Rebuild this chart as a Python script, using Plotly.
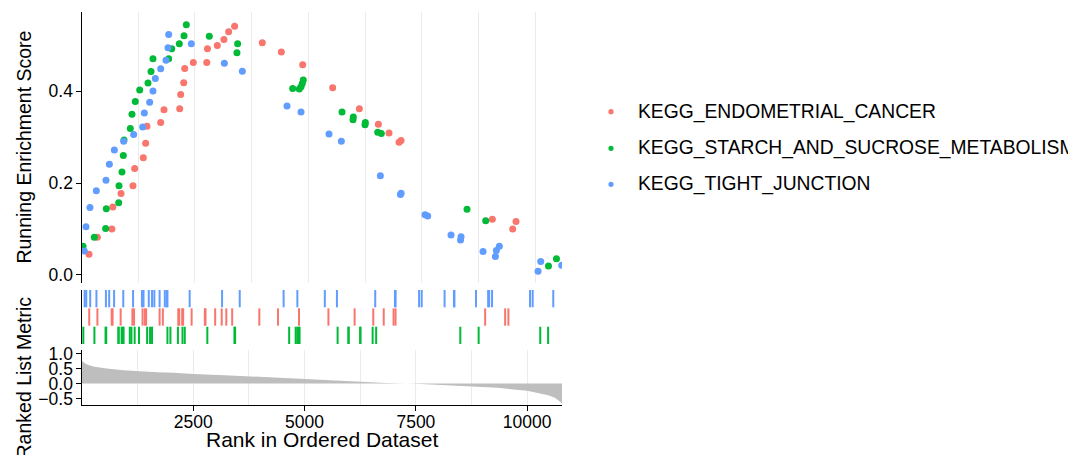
import plotly.graph_objects as go

# ---------------- data ----------------
set_names = ["KEGG_ENDOMETRIAL_CANCER", "KEGG_STARCH_AND_SUCROSE_METABOLISM", "KEGG_TIGHT_JUNCTION"]
set_colors = ["#F8766D", "#00BA38", "#619CFF"]

# hit positions (rank) and running enrichment score at each hit
endo_rank = [163, 347, 668, 688, 869, 1133, 1170, 1361, 1413, 1442, 1744, 1817, 2163, 2185, 2251, 2273,
             2463, 2760, 2775, 2992, 3139, 3242, 3374, 3984, 4404, 4875, 5536, 6124, 6543, 6778, 6999,
             7043, 9056, 9505, 9578]
endo_es = [0.045, 0.082, 0.100, 0.148, 0.177, 0.194, 0.232, 0.255, 0.287, 0.324, 0.332, 0.360, 0.362,
           0.393, 0.419, 0.450, 0.463, 0.463, 0.493, 0.500, 0.513, 0.530, 0.542, 0.506, 0.486, 0.458,
           0.408, 0.362, 0.328, 0.309, 0.289, 0.293, 0.121, 0.100, 0.116]

starch_rank = [31, 280, 530, 545, 818, 825, 891, 920, 935, 1074, 1111, 1184, 1281, 1464, 1530, 1574,
               1920, 1987, 2155, 2258, 2309, 2816, 3425, 3440, 4654, 4800, 4838, 4866, 4888, 5742, 5984,
               5991, 6249, 6256, 6529, 6608, 8498, 8910, 10294, 10470]
starch_es = [0.062, 0.082, 0.101, 0.144, 0.157, 0.194, 0.224, 0.260, 0.294, 0.319, 0.350, 0.378, 0.403,
             0.418, 0.443, 0.471, 0.471, 0.493, 0.504, 0.521, 0.545, 0.520, 0.484, 0.504, 0.406, 0.405,
             0.410, 0.417, 0.425, 0.355, 0.338, 0.344, 0.327, 0.332, 0.311, 0.308, 0.143, 0.118, 0.019,
             0.035]

tight_rank = [60, 97, 185, 325, 538, 612, 722, 928, 1148, 1347, 1383, 1501, 1574, 1626, 1744, 1861, 1905,
              1920, 2419, 3147, 3544, 4529, 4838, 5455, 5727, 6587, 7030, 7045, 7572, 7631, 8145, 8355,
              8366, 8851, 9123, 9145, 9211, 10064, 10123, 10586]
tight_es = [0.052, 0.105, 0.147, 0.183, 0.206, 0.241, 0.272, 0.291, 0.306, 0.322, 0.353, 0.376, 0.401,
            0.428, 0.449, 0.468, 0.495, 0.524, 0.504, 0.461, 0.444, 0.368, 0.355, 0.307, 0.291, 0.216,
            0.175, 0.178, 0.131, 0.128, 0.087, 0.076, 0.083, 0.051, 0.040, 0.053, 0.062, 0.008, 0.029,
            0.021]

# ranked list metric (rank, value)
metric_rank = [1, 25, 100, 252, 555, 933, 1236, 1690, 2069, 2500, 3204, 3734, 4340, 5006, 5626, 6232,
               6838, 7496, 8125, 8730, 9336, 10002, 10244, 10471, 10623, 10736, 10782]
metric_value = [0.75, 0.72, 0.64, 0.57, 0.50, 0.44, 0.41, 0.38, 0.36, 0.32, 0.28, 0.24, 0.19, 0.14, 0.10,
                0.06, 0.02, -0.005, -0.045, -0.09, -0.14, -0.24, -0.31, -0.39, -0.47, -0.58, -0.65]

x_ticks = [2500, 5000, 7500, 10000]
es_ticks = [0.0, 0.2, 0.4]
es_ticktext = ["0.0", "0.2", "0.4"]
metric_ticks = [1.0, 0.5, 0.0, -0.5]
metric_ticktext = ["1.0", "0.5", "0.0", "\u22120.5"]

ranks = [endo_rank, starch_rank, tight_rank]
scores = [endo_es, starch_es, tight_es]

FONT = "Liberation Sans, Arial, Helvetica, sans-serif"

fig = go.Figure()

# running enrichment score dots
for name, col, r, s in zip(set_names, set_colors, ranks, scores):
    fig.add_trace(go.Scatter(x=r, y=s, mode="markers", name=name,
                             marker=dict(size=7, color=col, line=dict(width=0)),
                             xaxis="x", yaxis="y", showlegend=False, cliponaxis=True))

# rug of hits
rows = [(1.02, 1.98), (0.0, 0.96), (2.04, 3.0)]
for name, col, r, (y0, y1) in zip(set_names, set_colors, ranks, rows):
    xs, ys = [], []
    for v in r:
        xs += [v, v, None]
        ys += [y0, y1, None]
    fig.add_trace(go.Scatter(x=xs, y=ys, mode="lines", name=name, line=dict(color=col, width=2),
                             xaxis="x2", yaxis="y2", showlegend=False, hoverinfo="skip"))

# ranked list metric area
fig.add_trace(go.Scatter(x=metric_rank, y=metric_value, mode="lines", fill="tozeroy",
                         fillcolor="#BEBEBE", line=dict(width=0, color="#BEBEBE"),
                         xaxis="x3", yaxis="y3", showlegend=False, hoverinfo="skip"))

grid = "#EBEBEB"
tickfont = dict(family=FONT, size=17.5, color="black")

# legend (key dots + labels) placed to the right of the panels
legend_y = [0.7463, 0.6532, 0.5616]
shapes = []
annotations = []
for name, col, ly in zip(set_names, set_colors, legend_y):
    shapes.append(dict(type="circle", xref="paper", yref="paper", xsizemode="pixel", ysizemode="pixel",
                       xanchor=1.1021, yanchor=ly, x0=-2.6, x1=2.6, y0=-2.6, y1=2.6,
                       fillcolor=col, line=dict(width=0)))
    annotations.append(dict(text=name, xref="paper", yref="paper", x=1.1542, y=ly, showarrow=False,
                            xanchor="left", yanchor="middle",
                            font=dict(family=FONT, size=19.3, color="black")))

annotations += [
    dict(text="Running Enrichment Score", xref="paper", yref="paper", x=0, y=0.655,
         xshift=-58, textangle=-90, showarrow=False, xanchor="center", yanchor="middle",
         font=dict(family=FONT, size=19.5, color="black")),
    dict(text="Ranked List Metric", xref="paper", yref="paper", x=0, y=0.07,
         xshift=-58, textangle=-90, showarrow=False, xanchor="center", yanchor="middle",
         font=dict(family=FONT, size=19.5, color="black")),
    dict(text="Rank in Ordered Dataset", xref="paper", yref="paper", x=0.5, y=-0.089,
         showarrow=False, xanchor="center", yanchor="middle",
         font=dict(family=FONT, size=21, color="black")),
]

# the page places the figure 8px in from the top-left corner
fig.update_layout(
    template="none",
    width=1076, height=447,
    margin=dict(l=74, r=522, t=4, b=50, autoexpand=False),
    paper_bgcolor="white", plot_bgcolor="white",
    font=dict(family=FONT, color="black"),
    showlegend=False,
    xaxis=dict(domain=[0, 1], range=[9, 10592], anchor="y", showticklabels=False, ticks="",
               showline=False, zeroline=False, showgrid=True, gridcolor=grid, gridwidth=1.4,
               tickmode="linear", tick0=0, dtick=1250, automargin=False),
    yaxis=dict(domain=[0.3097, 1], range=[-0.0185, 0.573], tickvals=es_ticks, ticktext=es_ticktext,
               ticks="outside", ticklen=4.5, tickwidth=1.1, tickcolor="black",
               showline=True, linecolor="black", linewidth=1.2, showgrid=False, zeroline=False,
               tickfont=tickfont, automargin=False),
    xaxis2=dict(domain=[0, 1], range=[1, 10782], anchor="y2", showticklabels=False, ticks="",
                showline=False, zeroline=False, showgrid=False, automargin=False),
    yaxis2=dict(domain=[0.1552, 0.2926], range=[0, 3], showticklabels=False, ticks="",
                showline=True, linecolor="black", linewidth=1.2, showgrid=False, zeroline=False,
                automargin=False),
    xaxis3=dict(domain=[0, 1], range=[1, 10782], anchor="y3", tickvals=x_ticks,
                ticktext=[str(v) for v in x_ticks], ticks="outside", ticklen=4.5, tickwidth=1.1,
                tickcolor="black", showline=True, linecolor="black", linewidth=1.2, zeroline=False,
                showgrid=True, gridcolor=grid, gridwidth=1.4, tickfont=tickfont, automargin=False,
                ticklabelstandoff=-4,
                minor=dict(tickmode="linear", tick0=0, dtick=1250, showgrid=True, gridcolor=grid,
                           gridwidth=1.0, ticks="")),
    yaxis3=dict(domain=[0, 0.1399], range=[-0.709, 1.113], tickvals=metric_ticks,
                ticktext=metric_ticktext, ticks="outside", ticklen=4.5, tickwidth=1.1,
                tickcolor="black", showline=True, linecolor="black", linewidth=1.2,
                showgrid=False, zeroline=False, tickfont=tickfont, automargin=False),
    shapes=shapes,
    annotations=annotations,
)

fig.write_html("out.html")
